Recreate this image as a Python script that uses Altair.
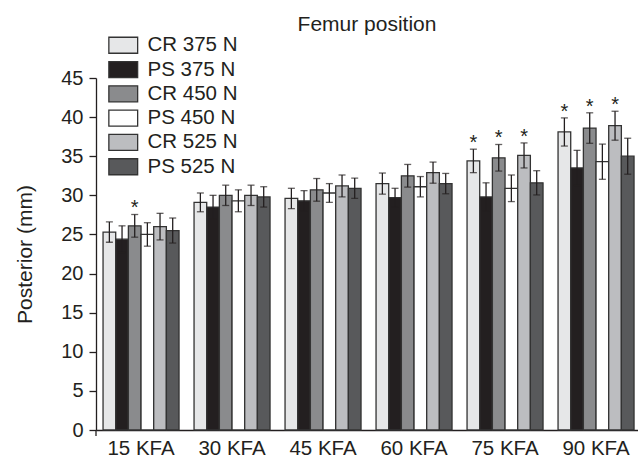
import altair as alt
import pandas as pd

groups = ["15 KFA", "30 KFA", "45 KFA", "60 KFA", "75 KFA", "90 KFA"]
series = ["CR 375 N", "PS 375 N", "CR 450 N", "PS 450 N", "CR 525 N", "PS 525 N"]
colors = ["#e6e7e8", "#231f20", "#8a8b8d", "#ffffff", "#bcbdc0", "#58595b"]

# values[series][group]
cr375 = [25.3, 29.1, 29.6, 31.5, 34.4, 38.1]
ps375 = [24.4, 28.5, 29.3, 29.7, 29.8, 33.5]
cr450 = [26.1, 30.0, 30.7, 32.5, 34.8, 38.6]
ps450 = [25.0, 29.3, 30.3, 31.1, 30.9, 34.3]
cr525 = [26.0, 30.0, 31.2, 32.9, 35.1, 38.9]
ps525 = [25.5, 29.8, 30.9, 31.5, 31.6, 35.0]

err_cr375 = [1.3, 1.2, 1.3, 1.35, 1.5, 1.8]
err_ps375 = [1.7, 1.5, 1.3, 1.2, 1.8, 2.25]
err_cr450 = [1.45, 1.3, 1.45, 1.45, 1.7, 1.95]
err_ps450 = [1.5, 1.4, 1.2, 1.3, 1.7, 2.25]
err_cr525 = [1.7, 1.3, 1.4, 1.35, 1.6, 1.85]
err_ps525 = [1.6, 1.3, 1.3, 1.3, 1.55, 2.3]

# significance markers (*)
star_cr375 = [False, False, False, False, True, True]
star_ps375 = [False] * 6
star_cr450 = [True, False, False, False, True, True]
star_ps450 = [False] * 6
star_cr525 = [False, False, False, False, True, True]
star_ps525 = [False] * 6

y_ticks = [0, 5, 10, 15, 20, 25, 30, 35, 40, 45]

vals = [cr375, ps375, cr450, ps450, cr525, ps525]
errs = [err_cr375, err_ps375, err_cr450, err_ps450, err_cr525, err_ps525]
stars = [star_cr375, star_ps375, star_cr450, star_ps450, star_cr525, star_ps525]

rows = []
for si, s in enumerate(series):
    for gi, g in enumerate(groups):
        v = vals[si][gi]
        e = errs[si][gi]
        rows.append({"group": g, "series": s, "value": v, "lo": v - e, "hi": v + e,
                     "star": "*" if stars[si][gi] else ""})
df = pd.DataFrame(rows)

ink = "#231f20"
FONT = "Liberation Sans"

x_enc = alt.X("group:N", sort=groups,
              scale=alt.Scale(paddingInner=0.165, paddingOuter=0.0605, align=0.64),
              axis=alt.Axis(title=None, ticks=False, labelAngle=0, labelFontSize=20.5,
                            labelPadding=8, labelColor=ink, domainColor=ink,
                            domainWidth=1.3))
xo_enc = alt.XOffset("series:N", sort=series,
                     scale=alt.Scale(paddingInner=0, paddingOuter=0))
y_scale = alt.Scale(domain=[0, 45], nice=False)
y_axis = alt.Axis(values=y_ticks, tickSize=7, tickColor=ink,
                  tickWidth=1.3, domainColor=ink, domainWidth=1.3,
                  labelFontSize=20, labelColor=ink, labelPadding=6, labelOverlap=False,
                  grid=False, title="Posterior (mm)", titleFontSize=21,
                  titleFontWeight="normal", titleColor=ink, titlePadding=25)

base = alt.Chart(df)

bars = base.mark_bar(stroke="#333333", strokeWidth=1.3).encode(
    x=x_enc,
    xOffset=xo_enc,
    y=alt.Y("value:Q", scale=y_scale, stack=None, axis=y_axis),
    fill=alt.Fill("series:N", sort=series,
                  scale=alt.Scale(domain=series, range=colors),
                  legend=alt.Legend(title=None, orient="none", legendX=17, legendY=-43,
                                    padding=0,
                                    symbolType="M-1.8,-1H1.8V1H-1.8Z",
                                    symbolSize=256, symbolStrokeColor="#333333",
                                    symbolStrokeWidth=1.3, symbolOpacity=1,
                                    labelFontSize=20.5, labelColor=ink,
                                    labelOffset=14, rowPadding=2.3)),
)

rule = base.mark_rule(color=ink, strokeWidth=1.3).encode(
    x=x_enc, xOffset=xo_enc, y=alt.Y("lo:Q", scale=y_scale, axis=y_axis), y2="hi:Q")
cap_hi = base.mark_tick(color=ink, orient="horizontal", size=7, thickness=1.3).encode(
    x=x_enc, xOffset=xo_enc, y=alt.Y("hi:Q", scale=y_scale, axis=y_axis))
cap_lo = base.mark_tick(color=ink, orient="horizontal", size=7, thickness=1.3).encode(
    x=x_enc, xOffset=xo_enc, y=alt.Y("lo:Q", scale=y_scale, axis=y_axis))
star_txt = base.transform_filter(alt.datum.star == "*").mark_text(
    fontSize=20, baseline="alphabetic", color=ink, dy=0).encode(
    x=x_enc, xOffset=xo_enc, y=alt.Y("hi:Q", scale=y_scale, axis=y_axis), text="star:N")

stub = alt.Chart(pd.DataFrame({"a": [0]})).mark_rule(color=ink, strokeWidth=1.3).encode(
    x=alt.value(0), y=alt.value(352), y2=alt.value(358))

chart = alt.layer(bars, rule, cap_hi, cap_lo, star_txt, stub).properties(
    width=542, height=352,
    title=alt.Title("Femur position", fontSize=21, fontWeight="normal", color=ink,
                    anchor="middle", offset=0),
    autosize=alt.AutoSizeParams(type="none"),
    padding={"left": 96, "top": 78, "right": 0, "bottom": 32},
).configure(font=FONT).configure_view(stroke=None)

chart.save("out.html", embed_options={"renderer": "svg", "actions": False})
